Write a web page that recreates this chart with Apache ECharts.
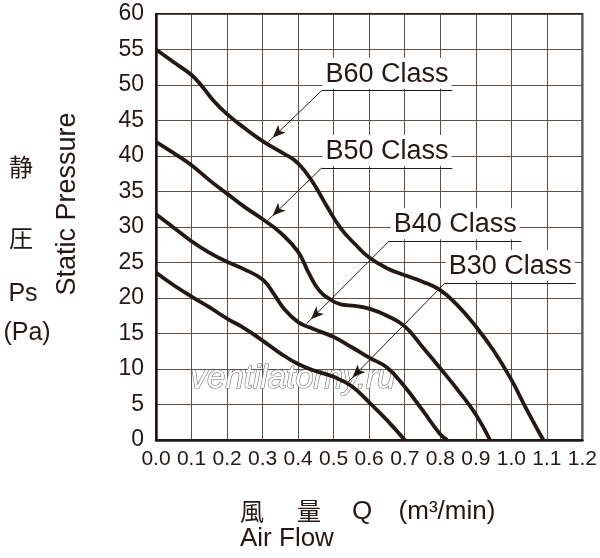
<!DOCTYPE html>
<html>
<head>
<meta charset="utf-8">
<script src="https://cdn.jsdelivr.net/npm/echarts@6/dist/echarts.min.js"></script>
<style>html,body{margin:0;padding:0;background:#fff}#c{width:600px;height:558px}</style>
</head>
<body>
<div id="c"></div>
<script>
// ---- data ----
const seriesNames = ['B60 Class', 'B50 Class', 'B40 Class', 'B30 Class'];
const b60 = [[0,55.0],[0.05,53.2],[0.10,51.4],[0.13,49.8],[0.16,47.9],[0.20,45.9],[0.25,43.9],[0.30,42.1],[0.35,40.6],[0.39,39.4],[0.42,37.8],[0.45,35.6],[0.48,33.0],[0.52,29.8],[0.56,27.6],[0.60,25.7],[0.65,24.2],[0.70,23.2],[0.75,22.3],[0.80,21.1],[0.85,18.9],[0.90,16.0],[0.95,12.6],[1.00,8.5],[1.04,4.6],[1.09,0]];
const b50 = [[0,42.0],[0.05,40.4],[0.10,38.7],[0.15,36.6],[0.20,34.7],[0.25,32.8],[0.30,31.1],[0.35,29.2],[0.40,26.5],[0.43,23.5],[0.46,21.0],[0.49,19.8],[0.52,19.1],[0.56,18.9],[0.60,18.5],[0.65,17.5],[0.70,16.0],[0.75,13.1],[0.80,10.1],[0.85,7.0],[0.90,3.6],[0.94,0]];
const b40 = [[0,31.8],[0.05,29.9],[0.10,28.0],[0.15,26.4],[0.20,25.1],[0.25,24.0],[0.30,22.6],[0.33,20.7],[0.36,18.5],[0.40,16.6],[0.44,15.7],[0.50,14.5],[0.55,13.1],[0.60,11.6],[0.65,10.2],[0.70,7.5],[0.75,4.2],[0.80,0.8],[0.82,0]];
const b30 = [[0,23.6],[0.05,21.8],[0.10,20.2],[0.15,18.7],[0.20,17.1],[0.25,15.7],[0.30,14.0],[0.35,12.2],[0.40,10.7],[0.45,9.7],[0.50,8.9],[0.55,7.6],[0.60,5.3],[0.65,2.8],[0.70,0]];
const seriesValues = [b60, b50, b40, b30];
// annotation anchors (data space): underline start x, underline end x, underline y, arrow tip [x,y]
const labelStartX = [0.466, 0.466, 0.656, 0.813];
const labelEndX   = [0.834, 0.834, 1.028, 1.181];
const labelY      = [49.2, 38.3, 28.0, 22.1];
const arrowTips   = [[0.316, 42.0], [0.316, 31.0], [0.424, 16.4], [0.541, 8.2]];
const xMin = 0, xMax = 1.2, xStep = 0.1;
const yMin = 0, yMax = 60, yStep = 5;

const INK = '#231815';
const FONT = "'Liberation Sans', Arial, Helvetica, sans-serif";
const CJK = "'Noto Sans CJK JP', 'Noto Sans CJK SC', sans-serif";

const chart = echarts.init(document.getElementById('c'), null, {renderer: 'canvas'});

const series = seriesValues.map((vals, i) => ({
  name: seriesNames[i],
  type: 'line',
  data: vals,
  showSymbol: false,
  smooth: 0.45,
  lineStyle: {color: INK, width: 3.8},
  z: 3,
  markLine: {
    silent: true,
    animation: false,
    symbol: ['none', 'none'],
    lineStyle: {color: INK, width: 1, type: 'solid'},
    label: {
      show: true,
      formatter: '{b}',
      position: 'insideMiddleTop',
      distance: 2,
      color: INK,
      fontFamily: FONT,
      fontSize: 27,
      backgroundColor: '#fff',
      padding: [3, 3, 1, 3]
    },
    emphasis: {disabled: true},
    data: [
      [{name: seriesNames[i], coord: [labelStartX[i], labelY[i]]}, {coord: [labelEndX[i], labelY[i]]}],
      [{coord: [labelStartX[i], labelY[i]], label: {show: false}},
       {coord: arrowTips[i], symbol: 'arrow', symbolSize: [8, 13], symbolOffset: [0, 6]}]
    ]
  }
}));

const option = {
  animation: false,
  backgroundColor: '#fff',
  grid: {left: 156, top: 14, right: 17, bottom: 118, show: true, borderColor: INK, borderWidth: 2, containLabel: false},
  xAxis: {
    type: 'value', min: xMin, max: xMax, interval: xStep,
    axisLine: {show: true, lineStyle: {color: INK, width: 2.5}},
    axisTick: {show: false},
    splitLine: {show: true, lineStyle: {color: '#5b514a', width: 1}},
    axisLabel: {color: INK, fontFamily: FONT, fontSize: 21, margin: 9,
      formatter: v => v.toFixed(1)}
  },
  yAxis: {
    type: 'value', min: yMin, max: yMax, interval: yStep,
    axisLine: {show: true, lineStyle: {color: INK, width: 2.5}},
    axisTick: {show: false},
    splitLine: {show: true, lineStyle: {color: '#5b514a', width: 1}},
    axisLabel: {color: INK, fontFamily: FONT, fontSize: 23, margin: 12}
  },
  graphic: [
    {type: 'text', z: 1, left: 190, top: 362, style: {text: 'ventilatorny.ru', font: "italic 33px " + FONT, fill: '#fff', stroke: '#6e6e6e', lineWidth: 1.2}},
    {type: 'text', x: 21, y: 167, style: {text: '静', font: "24px " + CJK, fill: INK, align: 'center', verticalAlign: 'middle'}},
    {type: 'text', x: 21, y: 238, style: {text: '圧', font: "24px " + CJK, fill: INK, align: 'center', verticalAlign: 'middle'}},
    {type: 'text', x: 23, y: 294, style: {text: 'Ps', font: "25px " + FONT, fill: INK, align: 'center', verticalAlign: 'middle'}},
    {type: 'text', x: 27, y: 333, style: {text: '(Pa)', font: "25px " + FONT, fill: INK, align: 'center', verticalAlign: 'middle'}},
    {type: 'text', x: 68, y: 204, rotation: Math.PI / 2, style: {text: 'Static Pressure', font: "27px " + FONT, fill: INK, align: 'center', verticalAlign: 'middle'}},
    {type: 'text', x: 252, y: 511, style: {text: '風', font: "24px " + CJK, fill: INK, align: 'center', verticalAlign: 'middle'}},
    {type: 'text', x: 309, y: 511, style: {text: '量', font: "24px " + CJK, fill: INK, align: 'center', verticalAlign: 'middle'}},
    {type: 'text', x: 362, y: 512, style: {text: 'Q', font: "26px " + FONT, fill: INK, align: 'center', verticalAlign: 'middle'}},
    {type: 'text', x: 447, y: 512, style: {text: '(m³/min)', font: "26px " + FONT, fill: INK, align: 'center', verticalAlign: 'middle'}},
    {type: 'text', x: 240, y: 539, style: {text: 'Air Flow', font: "26px " + FONT, fill: INK, align: 'left', verticalAlign: 'middle'}}
  ],
  series: series
};
chart.setOption(option);
</script>
</body>
</html>
